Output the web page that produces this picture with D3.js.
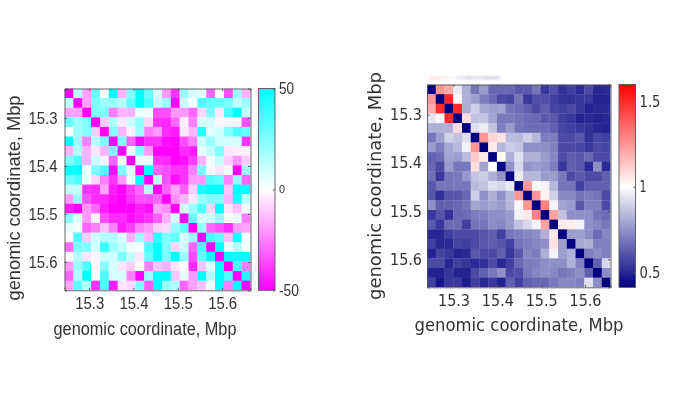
<!DOCTYPE html>
<html><head><meta charset="utf-8">
<script src="https://cdn.jsdelivr.net/npm/d3@7/dist/d3.min.js"></script>
<style>html,body{margin:0;padding:0;background:#fff}svg{display:block}</style>
</head><body><svg id="c" width="677" height="417"></svg>
<script>
const tickValues = [15.3, 15.4, 15.5, 15.6];
const axisTitle = "genomic coordinate, Mbp";
const diffTicks = [50, 0, -50];
const ratioTicks = [1.5, 1, 0.5];
const diffMatrix = [
[-50,12,-18,30,2,50,-15,25,50,30,8,-20,-40,20,8,6,-30,0,-35,20,-15],
[12,-50,-18,25,20,20,15,30,50,35,10,20,-50,10,2,35,30,30,25,12,20],
[-18,-18,-50,25,25,-25,-15,-15,3,3,-35,-35,-20,-20,-30,-8,25,-5,35,50,12],
[30,20,25,-50,-10,15,-5,10,22,-8,-40,-42,-30,-3,-25,8,8,-2,-2,-2,-35],
[2,20,25,-10,-50,25,-15,-3,20,-25,-20,-42,-45,-5,-15,40,6,10,25,35,30],
[50,18,-25,15,25,-50,25,-30,-48,-40,-40,-48,-50,-35,-25,10,20,10,8,8,-40],
[-15,15,-15,-5,-15,25,-50,3,25,-20,-50,-50,-50,-42,-45,6,12,25,-5,-3,-3],
[25,35,-15,10,-3,-30,3,-50,5,5,-40,-42,-50,-48,-38,-15,3,12,-10,-20,-10],
[50,50,3,25,35,-48,25,5,-50,50,-30,-35,-40,-40,-25,25,2,-5,2,-50,20],
[30,35,3,-8,-25,-40,-20,5,50,-50,12,-35,-48,-40,-20,-20,35,30,-25,20,-30],
[12,12,-40,-42,-18,-45,-50,-38,-30,15,-50,-30,-18,-32,-10,45,50,50,-12,50,50],
[-20,20,-35,-42,-42,-48,-50,-42,-35,-35,-30,-50,-22,-15,-5,20,25,25,-15,45,12],
[-45,-50,-20,-30,-45,-50,-50,-50,-45,-48,-18,-22,-50,8,20,35,-8,50,-5,-12,3],
[22,6,-20,-3,-35,-42,-42,-48,-45,-40,-32,-15,8,-50,30,8,10,20,0,5,-25],
[5,2,-30,-25,-12,-25,-45,-38,-25,-20,-10,-8,20,30,-50,20,-30,-35,-42,-20,-18],
[0,35,-10,10,15,15,6,-15,20,-15,40,25,30,8,20,-50,35,30,-12,45,2],
[-30,25,25,8,40,20,12,3,2,35,50,25,-8,10,-30,35,-50,50,5,15,2],
[0,15,-5,-2,10,10,25,12,-5,30,50,25,50,20,-35,30,50,-50,50,50,50],
[-20,20,35,-2,25,8,-5,-10,2,-25,-12,-15,-5,0,-42,-12,5,50,-50,35,-25],
[-30,15,50,3,35,8,8,-25,-50,20,50,50,-12,5,-20,50,15,50,35,-50,45],
[-18,30,15,-40,35,-45,-5,-8,25,-32,50,20,15,-30,-18,-12,2,50,-25,50,-50]];
const ratioMatrix = [
[.36,1.25,1.2,.95,.8,.65,.75,.62,.62,.62,.58,.58,.65,.5,.56,.48,.52,.47,.55,.46,.47],
[1.25,.36,1.5,1.02,.8,.76,.67,.63,.55,.53,.65,.5,.56,.56,.52,.48,.48,.5,.5,.45,.44],
[1.2,1.5,.36,1.5,.8,.88,.78,.76,.77,.65,.63,.6,.55,.6,.53,.52,.55,.5,.45,.47,.47],
[.93,1.02,1.5,.36,1.08,.85,.85,.77,.66,.67,.65,.63,.62,.58,.58,.52,.5,.44,.47,.44,.46],
[.8,.8,.8,1.08,.36,.92,.95,.85,.67,.75,.65,.63,.63,.63,.6,.53,.52,.5,.48,.46,.44],
[.65,.76,.88,.85,.92,.36,1.25,1.1,1.07,.83,.83,.88,.82,.67,.67,.55,.55,.58,.48,.53,.52],
[.75,.67,.78,.82,.97,1.25,.36,1.05,.82,.87,.85,.72,.72,.72,.68,.55,.55,.53,.5,.55,.53],
[.6,.63,.77,.75,.83,1.12,1.05,.36,1.0,.8,.92,.8,.8,.75,.7,.55,.6,.58,.62,.55,.55],
[.62,.55,.75,.66,.66,1.08,.77,1.0,.36,.73,.9,.73,.75,.73,.67,.5,.6,.58,.47,.72,.47],
[.64,.5,.65,.66,.74,.85,.87,.8,.73,.36,.95,.82,.82,.75,.75,.66,.55,.58,.55,.55,.6],
[.58,.65,.65,.66,.66,.83,.85,.92,.9,.95,.36,1.25,1.02,.97,.82,.65,.65,.52,.6,.6,.6],
[.57,.48,.57,.57,.62,.88,.72,.8,.72,.82,1.25,.36,1.25,1.03,.88,.7,.7,.65,.67,.65,.55],
[.72,.6,.6,.62,.65,.78,.75,.78,.75,.82,1.02,1.25,.36,1.3,.97,.77,.75,.58,.68,.68,.55],
[.5,.57,.48,.62,.63,.67,.68,.72,.72,.75,.97,1.05,1.3,.36,1.22,.85,.72,.72,.72,.65,.63],
[.58,.5,.63,.63,.52,.65,.65,.72,.7,.75,.85,.9,.97,1.22,.36,1.05,1.04,.97,.72,.7,.66],
[.46,.46,.52,.55,.55,.55,.57,.6,.52,.65,.67,.7,.72,.8,1.05,.36,.75,.76,.72,.63,.7],
[.52,.47,.47,.53,.52,.55,.58,.6,.57,.52,.65,.67,.7,.72,1.07,.75,.36,.78,.8,.68,.68],
[.45,.53,.5,.44,.47,.58,.55,.55,.6,.5,.58,.7,.67,.8,.97,.76,.8,.36,.68,.72,.68],
[.55,.55,.46,.52,.5,.47,.48,.55,.46,.52,.62,.67,.68,.72,.72,.72,.8,.68,.36,.6,.9],
[.44,.44,.49,.44,.44,.55,.6,.66,.72,.55,.56,.66,.7,.72,.7,.65,.68,.72,.6,.36,.72],
[.52,.42,.5,.5,.43,.52,.47,.5,.45,.6,.52,.6,.62,.62,.66,.7,.7,.68,.92,.72,.36]];

const svg = d3.select("#c");
const defs = svg.append("defs");
const soft = defs.append("filter").attr("id","soft").attr("x","-5%").attr("y","-5%").attr("width","110%").attr("height","110%");
soft.append("feGaussianBlur").attr("stdDeviation",0.7);
const softText = defs.append("filter").attr("id","softText").attr("x","-5%").attr("y","-5%").attr("width","110%").attr("height","110%");
softText.append("feGaussianBlur").attr("stdDeviation",0.3);
const smear = defs.append("filter").attr("id","smear").attr("x","-10%").attr("y","-100%").attr("width","120%").attr("height","300%");
smear.append("feGaussianBlur").attr("stdDeviation","1.5 1");

function panel(c){
  const root = svg.append("g");
  const band = d3.scaleBand().domain(d3.range(c.matrix.length));
  const bx = band.copy().range([c.x0,c.x1]);
  const by = band.copy().range([c.y0,c.y1]);
  const color = d3.scaleLinear().domain(c.domain).range(c.colors);
  const cellClip = "cellclip"+c.id;
  defs.append("clipPath").attr("id",cellClip).append("rect").attr("x",c.x0).attr("y",c.y0).attr("width",c.x1-c.x0).attr("height",c.y1-c.y0);
  const cells = root.append("g").attr("clip-path",`url(#${cellClip})`).append("g").attr("filter","url(#soft)");
  c.matrix.forEach((row,j)=>{
    cells.selectAll(null).data(row).enter().append("rect")
      .attr("x",(d,i)=>bx(i)).attr("y",by(j))
      .attr("width",bx.bandwidth()+.3).attr("height",by.bandwidth()+.3)
      .attr("fill",d=>color(d));
  });
  const g = root.append("g").attr("filter","url(#softText)");
  const xs = d3.scaleLinear().domain(c.xDomain).range([c.x0,c.x1]);
  const ys = d3.scaleLinear().domain(c.yDomain).range([c.y0,c.y1]);
  const axes = [
    [d3.axisBottom(xs),`translate(0,${c.y1})`,1],
    [d3.axisTop(xs),`translate(0,${c.y0})`,0],
    [d3.axisLeft(ys),`translate(${c.x0},0)`,1],
    [d3.axisRight(ys),`translate(${c.x1},0)`,0]];
  axes.forEach(([ax,tr,lab],i)=>{
    const a = g.append("g").attr("transform",tr)
      .call(ax.tickValues(tickValues).tickSize(-2.5).tickPadding(c.pad[i<2?0:1]).tickFormat(lab?d3.format(".1f"):""));
    a.selectAll("path,line").attr("stroke","#555").attr("stroke-width",.9);
    a.selectAll("text").attr("fill",c.textColor).attr("textLength",c.tickLen).attr("lengthAdjust","spacingAndGlyphs")
      .style("font-family",c.font).style("font-size",c.tickSize+"px");
  });
  g.append("text").attr("x",c.xLabel[0]).attr("y",c.xLabel[1]).attr("text-anchor","middle")
    .attr("textLength",c.xLabel[2]).attr("lengthAdjust","spacingAndGlyphs")
    .attr("fill",c.textColor).style("font-family",c.font).style("font-size",c.labelSize+"px").text(axisTitle);
  const clipId = "clip"+c.id;
  defs.append("clipPath").attr("id",clipId).append("rect").attr("x",0).attr("y",c.labelClip).attr("width",677).attr("height",417);
  g.append("g").attr("clip-path",`url(#${clipId})`).append("text")
    .attr("transform",`translate(${c.yLabel[0]},${c.yLabel[1]}) rotate(-90)`).attr("text-anchor","middle")
    .attr("textLength",c.yLabel[2]).attr("lengthAdjust","spacingAndGlyphs")
    .attr("fill",c.textColor).style("font-family",c.font).style("font-size",c.labelSize+"px").text(axisTitle);
  const gid = "grad"+c.id;
  const grad = defs.append("linearGradient").attr("id",gid).attr("x1",0).attr("x2",0).attr("y1",1).attr("y2",0);
  c.barStops.forEach((d,i)=>grad.append("stop").attr("offset",(d-c.barStops[0])/(c.barStops[2]-c.barStops[0])).attr("stop-color",c.colors[i]));
  g.append("rect").attr("x",c.bar[0]).attr("y",c.y0).attr("width",c.bar[1]-c.bar[0]).attr("height",c.y1-c.y0)
    .attr("fill",`url(#${gid})`).attr("stroke","#555").attr("stroke-width",.9);
  const bs = d3.scaleLinear().domain([c.barStops[0],c.barStops[2]]).range([c.y1,c.y0]);
  const ba = g.append("g").attr("transform",`translate(${c.bar[1]},0)`)
    .call(d3.axisRight(bs).tickValues(c.barTicks).tickSize(-2).tickPadding(c.barPad).tickFormat(d=>String(d)));
  ba.select("path").remove();
  ba.selectAll("line").attr("stroke","#555");
  ba.selectAll("text").attr("fill",c.textColor).attr("textLength",d=>c.barLen(d)).attr("lengthAdjust","spacingAndGlyphs")
    .style("font-family",c.font).style("font-size",d=>c.barSize(d)+"px");
  return {bx,color};
}

panel({id:"a",matrix:diffMatrix,x0:64.5,x1:250.5,y0:88.5,y1:290.3,
  domain:[-50,0,50],barStops:[-50,0,50],colors:["#ff00ff","#ffffff","#00ffff"],
  xDomain:[15.2443,15.664],yDomain:[15.2388,15.659],
  font:"'Liberation Sans',Arial,sans-serif",textColor:"#333",tickSize:16,tickLen:29,labelSize:18,pad:[7,7],
  xLabel:[145,335,183],yLabel:[20,198,205],labelClip:0,
  bar:[258.5,275],barTicks:diffTicks,barPad:4,barSize:d=>d===0?10:16,barLen:d=>d===0?6:(d<0?20:15)});
const right = panel({id:"b",matrix:ratioMatrix,x0:427,x1:610.5,y0:84.5,y1:287.3,
  domain:[.36,1,1.6],barStops:[.41,1,1.6],colors:["#000080","#ffffff","#ff0000"],
  xDomain:[15.2395,15.6582],yDomain:[15.2375,15.658],
  font:"'DejaVu Sans',sans-serif",textColor:"#333",tickSize:16,tickLen:32,labelSize:18,pad:[7,5],
  xLabel:[519,331,209],yLabel:[381,186,228],labelClip:72,
  bar:[619,635.5],barTicks:ratioTicks,barPad:4,barSize:d=>16,barLen:d=>d===1?7:21});
svg.append("g").attr("filter","url(#smear)").attr("opacity",.28)
  .selectAll("rect").data(ratioMatrix[0].slice(1,9)).enter().append("rect")
  .attr("x",(d,i)=>right.bx(i+1)-6).attr("y",76).attr("width",right.bx.bandwidth()).attr("height",3.5)
  .attr("fill",d=>right.color(d));
</script></body></html>
